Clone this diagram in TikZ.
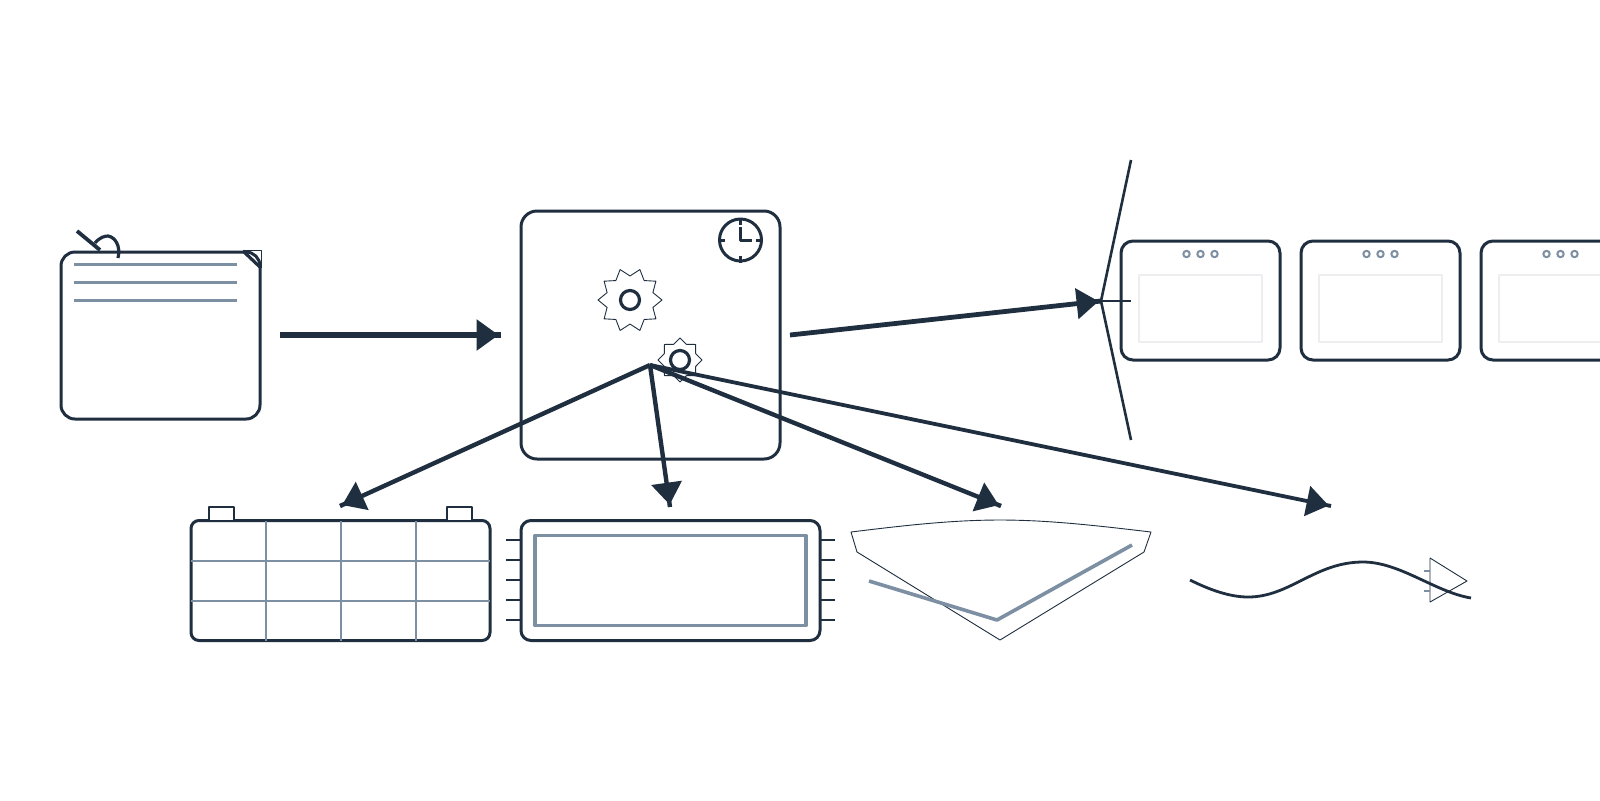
\documentclass[tikz,border=0pt]{standalone}
\usetikzlibrary{arrows.meta,shapes.geometric}
\definecolor{inkdark}{HTML}{1F2F40}
\definecolor{inkgrey}{HTML}{7C8FA3}
\definecolor{inkpale}{HTML}{ECEEF0}
\tikzset{
	boxnode/.style={rectangle,draw=inkdark,line width=1.5pt,rounded corners=#1,inner sep=0,outer sep=0},
	bigarrow/.style={draw=inkdark,line width=#1,-{Triangle[length=11pt,width=15pt]Square[length=1.2pt,width=#1]}},
	greyline/.style={draw=inkgrey,line width=#1},
	thinline/.style={draw=inkdark,line width=0.45pt},
	gearring/.style={circle,draw=inkdark,line width=1.6pt,minimum size=9.5pt,inner sep=0},
}
\begin{document}
\begin{tikzpicture}[x=0.5pt,y=-0.5pt,line join=round]
	\clip(0,0)rectangle(1600,800);
	\fill[white](0,0)rectangle(1600,800);
	%Document
	\path(160.5,335.5)node[boxnode=7pt,minimum width=99.5pt,minimum height=83.5pt](doc){};
	\draw[inkdark,line width=1.9pt](77,231)--(100,250);
	\draw[inkdark,line width=1.6pt](95,243)..controls(100,237)and(105,236)..(108,236)..controls(115,237)and(121,246)..(118,258);
	\foreach \y in {264,282,300}
	\draw[greyline=1.5pt](74,\y)--(237,\y);
	\draw[thinline](243,250)--(261,250)--(261,268);
	\draw[inkdark,line width=1.6pt](243,251)--(261,268);
	%Main box
	\path(650.5,335)node[boxnode=8pt,minimum width=129.5pt,minimum height=124pt](core){};
	\path(740.5,240)node[circle,draw=inkdark,line width=1.5pt,minimum size=21pt,inner sep=0](clock){};
	\draw[inkdark,line width=1.5pt](clock.north)--++(0,7);
	\draw[inkdark,line width=1.5pt](clock.south)--++(0,-7);
	\draw[inkdark,line width=1.5pt](clock.west)--++(7,0);
	\draw[inkdark,line width=1.5pt](clock.east)--++(-7,0);
	\draw[inkdark,line width=1.5pt](clock.center)++(0,-13)--(clock.center)--++(11,0);
	\path(630,300)node[star,star points=10,star point ratio=1.33,shape border rotate=18,thinline,minimum size=32pt,inner sep=0](gearbig){};
	\path(gearbig)node[gearring](ringbig){};
	\path(680,360)node[star,star points=8,star point ratio=1.3,thinline,minimum size=22pt,inner sep=0](gearsmall){};
	\path(gearsmall)node[gearring](ringsmall){};
	%Windows
	\foreach \i/\x in {1/1200.5,2/1380.5,3/1560.5}{
		\path(\x,300.5)node[boxnode=6pt,minimum width=79.5pt,minimum height=59.5pt](win\i){};
		\path(win\i.center)++(0,8)node[rectangle,draw=inkpale,line width=0.8pt,minimum width=61.5pt,minimum height=33.5pt,inner sep=0](pane\i){};
		\foreach \d in {-14,0,14}
		\path(win\i.center)++(\d,-46.5)node[circle,draw=inkgrey,line width=1pt,minimum size=3.2pt,inner sep=0](dot\i){};
	}
	%Battery
	\path(340.5,580.5)node[boxnode=4pt,minimum width=149.5pt,minimum height=60pt](cell){};
	\path(221.5,514)node[rectangle,draw=inkdark,line width=1.2pt,fill=white,minimum width=12.5pt,minimum height=7pt,inner sep=0](plusa){};
	\path(459.5,514)node[rectangle,draw=inkdark,line width=1.2pt,fill=white,minimum width=12.5pt,minimum height=7pt,inner sep=0](plusb){};
	\foreach \x in {266,341,416}
	\draw[greyline=1.1pt](\x,521)--(\x,641);
	\foreach \y in {561,601}
	\draw[greyline=1.1pt](191,\y)--(490,\y);
	%Chip
	\path(670.5,580.5)node[boxnode=5pt,minimum width=149.5pt,minimum height=60pt](chip){};
	\path(chip.center)node[rectangle,draw=inkgrey,line width=1.7pt,minimum width=135.5pt,minimum height=45pt,inner sep=0](die){};
	\foreach \y in {540,560,580,600,620}{
		\draw[inkdark,line width=1.4pt](506,\y)--(521,\y);
		\draw[inkdark,line width=1.4pt](820,\y)--(835,\y);
	}
	%Lens
	\draw[thinline](851,532)..controls(900,526)and(950,520)..(1000,520)..controls(1050,520)and(1100,526)..(1151,532)--(1144,552)--(1000,640)--(857,552)--cycle;
	\draw[greyline=1.8pt](869,581)--(997,620)--(1132,545);
	%Wave
	\draw[inkdark,line width=1.4pt](1190,580)..controls(1210,590)and(1230,597)..(1248,597)..controls(1290,597)and(1315,562)..(1363,562)..controls(1400,562)and(1435,592)..(1471,598);
	\draw[thinline](1430,558)--(1467,581)--(1430,602)--cycle;
	\draw[greyline=1.1pt](1424,571)--(1430,571);
	\draw[greyline=1.1pt](1424,591)--(1430,591);
	%Arrows
	\coordinate(inA)at(280,335);
	\coordinate(inB)at(501,335);
	\coordinate(outA)at(790,335);
	\coordinate(outB)at(1101,301);
	\coordinate(fanA)at(1131,160);
	\coordinate(fanB)at(1131,440);
	\coordinate(fanC)at(1131,301);
	\coordinate(hub)at(650,365);
	\coordinate(toCell)at(340,506);
	\coordinate(toChip)at(670,507);
	\coordinate(toLens)at(1001,506);
	\coordinate(toWave)at(1331,506);
	\draw[inkdark,line width=1.3pt](fanA)--(outB)--(fanB);
	\draw[inkdark,line width=1.4pt](outB)--(fanC);
	\draw[bigarrow=2.8pt](inA)--(inB);
	\draw[bigarrow=2.4pt](outA)--(outB);
	\draw[bigarrow=2.2pt](hub)--(toCell);
	\draw[bigarrow=2.2pt](hub)--(toChip);
	\draw[bigarrow=2.2pt](hub)--(toLens);
	\draw[bigarrow=1.9pt](hub)--(toWave);
\end{tikzpicture}
\end{document}
